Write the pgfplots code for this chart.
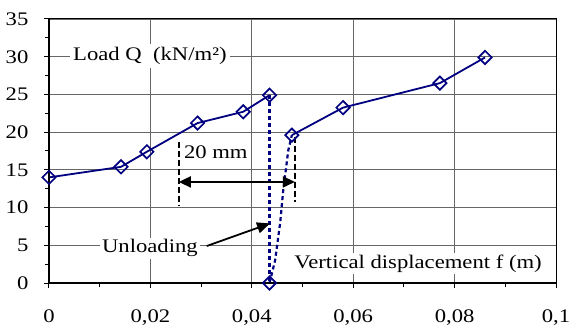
\documentclass[border=0pt]{standalone}
\usepackage{pgfplots}
\pgfplotsset{compat=1.18}
\usepackage{fontspec}
\setmainfont{Liberation Serif}
\usetikzlibrary{arrows.meta}
\definecolor{navy}{RGB}{0,0,128}
\newcommand{\bigf}{\fontsize{19.2bp}{23bp}\selectfont}
\newcommand{\sx}[1]{\scalebox{1.18}[1]{#1}}
\begin{document}
\bigf
\begin{tikzpicture}
\begin{axis}[
  scale only axis, width=507bp, height=264bp,
  xmin=0, xmax=0.1, ymin=0, ymax=35,
  clip=false,
  xtick={0,0.02,0.04,0.06,0.08,0.1},
  ytick={0,5,10,15,20,25,30,35},
  minor xtick={0.01,0.03,0.05,0.07,0.09},
  minor ytick={2.5,7.5,12.5,17.5,22.5,27.5,32.5},
  tick pos=left, tick align=outside,
  major tick length=5bp, minor tick length=4bp,
  every tick/.style={black, line width=1bp},
  xmajorgrids, ymajorgrids,
  grid style={gray!80!black, line width=0.9bp},
  axis line style={black, line width=1bp},
  ticklabel style={font=\bigf},
  xticklabel={\sx{\pgfmathprintnumber{\tick}}},
  yticklabel={\sx{\pgfmathprintnumber{\tick}}},
  xticklabel style={yshift=-15bp},
  yticklabel style={xshift=-9bp},
  /pgf/number format/.cd, use comma, fixed, precision=2, assume math mode=true,
]
% loading curve, first part
\addplot[navy, line width=1.8bp, mark=square, mark size=4.7bp,
  mark options={rotate=45, fill=white, solid, line width=1.7bp}]
  coordinates {(0,14) (0.0142,15.4) (0.0193,17.4) (0.0293,21.2) (0.0383,22.7) (0.0435,24.9)};
% unloading (vertical dotted)
\addplot[navy, line width=2.2bp, dash pattern=on 4bp off 3bp]
  coordinates {(0.0435,24.9) (0.0435,0)};
% reloading (dotted curve)
\addplot[navy, line width=2.2bp, dash pattern=on 4bp off 3bp]
  coordinates {(0.0435,0) (0.0446,3.0) (0.0456,8.0) (0.0462,12.3) (0.0472,17.6) (0.0479,19.6)};
% second loading
\addplot[navy, line width=1.8bp, mark=square, mark size=4.7bp,
  mark options={rotate=45, fill=white, solid, line width=1.7bp}]
  coordinates {(0.0479,19.6) (0.058,23.25) (0.0771,26.5) (0.086,29.9)};
% unloaded point
\addplot[navy, only marks, mark=square, mark size=4.7bp,
  mark options={rotate=45, fill=white, solid, line width=1.7bp}]
  coordinates {(0.0435,0)};
% dimension lines
\addplot[black, line width=1.6bp, dash pattern=on 6bp off 3bp]
  coordinates {(0.0256,18.7) (0.0256,10.3)};
\addplot[black, line width=1.6bp, dash pattern=on 6bp off 3bp]
  coordinates {(0.0485,19.4) (0.0485,10.8)};
\addplot[black, line width=1.8bp, {Triangle[length=12bp,width=11bp]}-{Triangle[length=12bp,width=11bp]}]
  coordinates {(0.0256,13.4) (0.0485,13.4)};
\addplot[black, line width=1.8bp, -{Triangle[length=13bp,width=11bp]}]
  coordinates {(0.0311,4.9) (0.0436,7.9)};
% texts
\node[font=\bigf, fill=white, inner sep=3bp] at (axis cs:0.0199,30.1) {\sx{Load Q\ \ (kN/m²)}};
\node[font=\bigf] at (axis cs:0.0329,17.3) {\sx{20 mm}};
\node[font=\bigf, fill=white, inner sep=2bp] at (axis cs:0.0199,4.6) {\sx{Unloading}};
\node[font=\bigf, fill=white, inner sep=2bp] at (axis cs:0.0728,2.6) {\sx{Vertical displacement f (m)}};
% thicker left and bottom axis
\draw[black, line width=2bp] (axis cs:0,35) -- (axis cs:0,0) -- (axis cs:0.1,0);
\end{axis}
\pgfresetboundingbox
\path[use as bounding box] (-49bp,-43bp) rectangle (521bp,283bp);
\end{tikzpicture}
\end{document}
